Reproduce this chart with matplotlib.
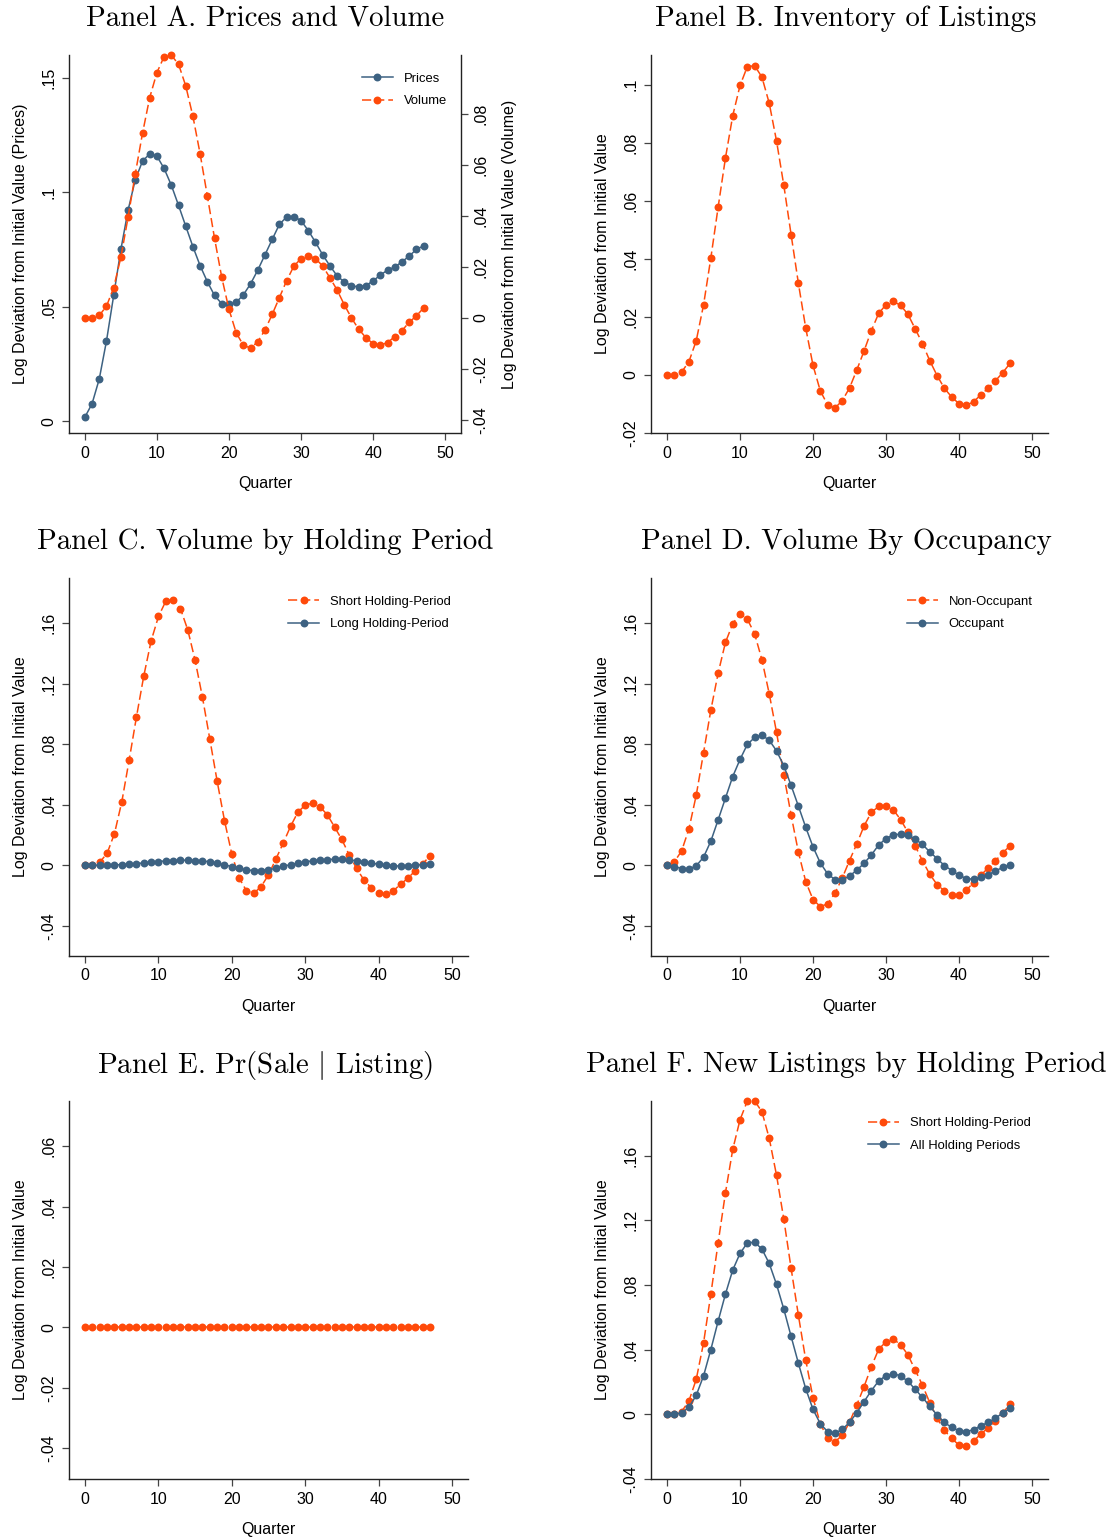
"""Six-panel impulse response figure (Stata look) in matplotlib."""
import matplotlib
import matplotlib.pyplot as plt
import numpy as np

matplotlib.use("Agg")

plt.rcParams["font.family"] = ["Liberation Sans", "DejaVu Sans"]
plt.rcParams["mathtext.fontset"] = "cm"

BLUE = "#3d6282"
ORANGE = "#ff4a0a"

quarter = np.arange(48)

# Panel A
prices = [0.0017, 0.0076, 0.0184, 0.0350, 0.0549, 0.0750, 0.0922, 0.1055, 0.1136, 0.1168,
          0.1158, 0.1104, 0.1031, 0.0943, 0.0852, 0.0762, 0.0679, 0.0609, 0.0549, 0.0513,
          0.0510, 0.0519, 0.0552, 0.0600, 0.0660, 0.0727, 0.0794, 0.0860, 0.0892, 0.0894,
          0.0876, 0.0833, 0.0782, 0.0727, 0.0679, 0.0635, 0.0608, 0.0592, 0.0586, 0.0592,
          0.0613, 0.0638, 0.0660, 0.0673, 0.0696, 0.0721, 0.0750, 0.0766]
volume = [0.0, 0.0, 0.0010, 0.0046, 0.0119, 0.0238, 0.0395, 0.0565, 0.0724, 0.0864,
          0.0962, 0.1025, 0.1030, 0.0995, 0.0910, 0.0790, 0.0643, 0.0478, 0.0312, 0.0159,
          0.0034, -0.0058, -0.0107, -0.0118, -0.0093, -0.0047, 0.0014, 0.0080, 0.0146, 0.0203,
          0.0233, 0.0244, 0.0233, 0.0204, 0.0158, 0.0110, 0.0052, 0.0, -0.0044, -0.0077,
          -0.0101, -0.0106, -0.0097, -0.0073, -0.0050, -0.0017, 0.0008, 0.0039]

# Panel B
listings = [0.0, 0.0, 0.0010, 0.0046, 0.0118, 0.0241, 0.0403, 0.0578, 0.0747, 0.0893,
            0.0997, 0.1062, 0.1065, 0.1026, 0.0936, 0.0806, 0.0653, 0.0483, 0.0315, 0.0162,
            0.0033, -0.0055, -0.0103, -0.0114, -0.0089, -0.0045, 0.0017, 0.0083, 0.0153, 0.0212,
            0.0242, 0.0253, 0.0240, 0.0209, 0.0159, 0.0108, 0.0049, -0.0002, -0.0046, -0.0076,
            -0.0099, -0.0104, -0.0093, -0.0068, -0.0046, -0.0020, 0.0008, 0.0040]

# Panel C
vol_short = [0.0, 0.0, 0.0020, 0.0079, 0.0209, 0.0419, 0.0694, 0.0981, 0.1252, 0.1483,
             0.1644, 0.1745, 0.1754, 0.1695, 0.1554, 0.1353, 0.1109, 0.0833, 0.0555, 0.0295,
             0.0073, -0.0084, -0.0170, -0.0185, -0.0141, -0.0064, 0.0040, 0.0145, 0.0256, 0.0350,
             0.0397, 0.0410, 0.0386, 0.0335, 0.0253, 0.0170, 0.0068, -0.0020, -0.0097, -0.0148,
             -0.0185, -0.0190, -0.0170, -0.0126, -0.0086, -0.0037, 0.0007, 0.0062]
vol_long = [0.0, 0.0, 0.0, 0.0002, 0.0002, 0.0004, 0.0007, 0.0011, 0.0015, 0.0020,
            0.0024, 0.0029, 0.0031, 0.0033, 0.0033, 0.0031, 0.0029, 0.0022, 0.0013, 0.0002,
            -0.0009, -0.0020, -0.0031, -0.0035, -0.0035, -0.0031, -0.0020, -0.0007, 0.0004, 0.0013,
            0.0022, 0.0029, 0.0033, 0.0037, 0.0040, 0.0040, 0.0035, 0.0029, 0.0020, 0.0013,
            0.0007, 0.0, -0.0002, -0.0007, -0.0004, 0.0, 0.0004, 0.0007]

# Panel D
vol_nonocc = [0.0, 0.0022, 0.0095, 0.0240, 0.0463, 0.0743, 0.1025, 0.1269, 0.1472, 0.1596,
              0.1662, 0.1626, 0.1529, 0.1358, 0.1133, 0.0879, 0.0597, 0.0331, 0.0086, -0.0108,
              -0.0227, -0.0273, -0.0256, -0.0185, -0.0086, 0.0031, 0.0141, 0.0260, 0.0350, 0.0388,
              0.0394, 0.0366, 0.0302, 0.0218, 0.0128, 0.0029, -0.0060, -0.0128, -0.0170, -0.0198,
              -0.0196, -0.0165, -0.0115, -0.0066, -0.0018, 0.0029, 0.0082, 0.0128]
vol_occ = [0.0, -0.0009, -0.0022, -0.0026, -0.0004, 0.0053, 0.0159, 0.0300, 0.0443, 0.0586,
           0.0699, 0.0798, 0.0844, 0.0859, 0.0826, 0.0756, 0.0657, 0.0527, 0.0390, 0.0251,
           0.0121, 0.0015, -0.0057, -0.0095, -0.0097, -0.0071, -0.0033, 0.0013, 0.0068, 0.0134,
           0.0176, 0.0201, 0.0205, 0.0201, 0.0172, 0.0137, 0.0088, 0.0044, -0.0002, -0.0035,
           -0.0066, -0.0088, -0.0093, -0.0075, -0.0064, -0.0037, -0.0015, 0.0004]

# Panel E
pr_sale = [0.0] * 48

# Panel F
new_short = [0.0, 0.0, 0.0017, 0.0083, 0.0217, 0.0442, 0.0744, 0.1062, 0.1370, 0.1639,
             0.1823, 0.1939, 0.1939, 0.1873, 0.1708, 0.1480, 0.1207, 0.0903, 0.0612, 0.0337,
             0.0103, -0.0058, -0.0147, -0.0170, -0.0130, -0.0050, 0.0058, 0.0172, 0.0296, 0.0403,
             0.0449, 0.0465, 0.0432, 0.0368, 0.0275, 0.0180, 0.0072, -0.0023, -0.0099, -0.0149,
             -0.0190, -0.0194, -0.0167, -0.0120, -0.0085, -0.0039, 0.0008, 0.0064]
new_all = [0.0, 0.0, 0.0010, 0.0043, 0.0118, 0.0238, 0.0401, 0.0577, 0.0744, 0.0893,
           0.0996, 0.1061, 0.1065, 0.1023, 0.0934, 0.0804, 0.0651, 0.0482, 0.0316, 0.0159,
           0.0031, -0.0058, -0.0107, -0.0118, -0.0093, -0.0050, 0.0010, 0.0079, 0.0147, 0.0207,
           0.0240, 0.0252, 0.0238, 0.0205, 0.0155, 0.0105, 0.0050, -0.0004, -0.0050, -0.0081,
           -0.0101, -0.0107, -0.0095, -0.0070, -0.0050, -0.0023, 0.0008, 0.0037]

xticks = [0, 10, 20, 30, 40, 50]
yticks_a = [0, 0.05, 0.1, 0.15]
ylabels_a = ["0", ".05", ".1", ".15"]
yticks_a2 = [-0.04, -0.02, 0, 0.02, 0.04, 0.06, 0.08]
ylabels_a2 = ["-.04", "-.02", "0", ".02", ".04", ".06", ".08"]
yticks_b = [-0.02, 0, 0.02, 0.04, 0.06, 0.08, 0.1]
ylabels_b = ["-.02", "0", ".02", ".04", ".06", ".08", ".1"]
yticks_c = [-0.04, 0, 0.04, 0.08, 0.12, 0.16]
ylabels_c = ["-.04", "0", ".04", ".08", ".12", ".16"]
yticks_e = [-0.04, -0.02, 0, 0.02, 0.04, 0.06]
ylabels_e = ["-.04", "-.02", "0", ".02", ".04", ".06"]

W, H = 1112, 1539
fig = plt.figure(figsize=(W / 100, H / 100), dpi=100)


def px_axes(left, top, right, bottom):
    return fig.add_axes([left / W, 1 - bottom / H, (right - left) / W, (bottom - top) / H])


def style(ax, yt, yl, ylim, ylabel="Log Deviation from Initial Value"):
    ax.set_xlim(-2.2, 52.2)
    ax.set_ylim(*ylim)
    ax.set_xticks(xticks)
    ax.set_xticklabels([str(t) for t in xticks])
    ax.set_yticks(yt)
    ax.set_yticklabels(yl, rotation=90, va="center")
    for s in ["top", "right"]:
        ax.spines[s].set_visible(False)
    for s in ["left", "bottom"]:
        ax.spines[s].set_linewidth(1.0)
        ax.spines[s].set_color("#222222")
    ax.tick_params(direction="out", length=5, width=0.9, color="#444444",
                   labelsize=11.5, pad=4)
    ax.set_xlabel("Quarter", fontsize=11.5, labelpad=11)
    ax.set_ylabel(ylabel, fontsize=11.5, labelpad=10)


def series(ax, y, color, dashed, label=None):
    kw = dict(color=color, lw=1.1, marker="o", ms=5.7, mec=color, mew=0,
              label=label, clip_on=False)
    if dashed:
        ax.plot(quarter, y, dashes=(6, 2.6), **kw)
    else:
        ax.plot(quarter, y, "-", **kw)


def legend(ax, x, y, handles=None):
    kw = {} if handles is None else {"handles": handles}
    ax.legend(loc="upper left", bbox_to_anchor=(x, y), frameon=False, fontsize=9.4,
              borderpad=0, borderaxespad=0, handlelength=2.4, handletextpad=0.8,
              labelspacing=0.8, **kw)


def title(xc, yc, text):
    fig.text(xc / W, 1 - yc / H, text, ha="center", va="center",
             fontsize=20.8, family=["cmr10", "DejaVu Serif"])


# Panel A
axa = px_axes(69, 55, 461, 433)
series(axa, prices, BLUE, False, "Prices")
style(axa, yticks_a, ylabels_a, (-0.0052, 0.16),
      "Log Deviation from Initial Value (Prices)")
axa2 = axa.twinx()
series(axa2, volume, ORANGE, True, "Volume")
axa2.set_ylim(-0.0451, 0.1031)
axa2.set_yticks(yticks_a2)
axa2.set_yticklabels(ylabels_a2, rotation=90, va="center")
axa2.spines["top"].set_visible(False)
axa2.spines["left"].set_visible(False)
axa2.spines["bottom"].set_visible(False)
axa2.spines["right"].set_linewidth(1.0)
axa2.spines["right"].set_color("#222222")
axa2.tick_params(direction="out", length=5, width=0.9, color="#444444",
                 labelsize=11.5, pad=4)
axa2.set_ylabel("Log Deviation from Initial Value (Volume)", fontsize=11.5, labelpad=10)
legend(axa2, 0.747, 0.954, handles=axa.get_lines() + axa2.get_lines())
title(265, 19, "Panel A. Prices and Volume")

# Panel B
axb = px_axes(651, 55, 1048, 433)
series(axb, listings, ORANGE, True)
style(axb, yticks_b, ylabels_b, (-0.02, 0.1102))
title(846, 19, "Panel B. Inventory of Listings")

# Panel C
axc = px_axes(69, 578, 468, 956)
series(axc, vol_short, ORANGE, True, "Short Holding-Period")
series(axc, vol_long, BLUE, False, "Long Holding-Period")
style(axc, yticks_c, ylabels_c, (-0.06, 0.1898))
legend(axc, 0.549, 0.954)
title(265, 542, "Panel C. Volume by Holding Period")

# Panel D
axd = px_axes(651, 578, 1048, 956)
series(axd, vol_nonocc, ORANGE, True, "Non-Occupant")
series(axd, vol_occ, BLUE, False, "Occupant")
style(axd, yticks_c, ylabels_c, (-0.06, 0.1898))
legend(axd, 0.644, 0.954)
title(846, 542, "Panel D. Volume By Occupancy")

# Panel E
axe = px_axes(69, 1101, 468, 1479)
series(axe, pr_sale, ORANGE, True)
style(axe, yticks_e, ylabels_e, (-0.0501, 0.0749))
title(265, 1065, r"Panel E. Pr(Sale $|$ Listing)")

# Panel F
axf = px_axes(651, 1101, 1048, 1479)
series(axf, new_short, ORANGE, True, "Short Holding-Period")
series(axf, new_all, BLUE, False, "All Holding Periods")
style(axf, yticks_c, ylabels_c, (-0.04, 0.1939))
legend(axf, 0.546, 0.957)
title(846, 1065, "Panel F. New Listings by Holding Period")

fig.savefig("out.png", dpi=100)
plt.close(fig)
